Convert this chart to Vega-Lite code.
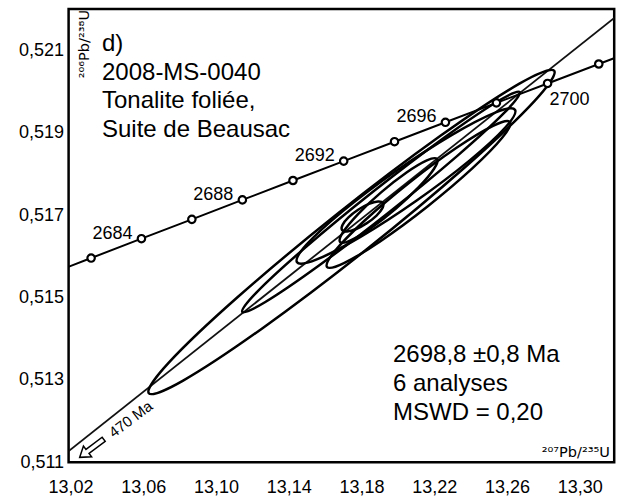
{
  "$schema": "https://vega.github.io/schema/vega-lite/v6.json",
  "width": 545.6,
  "height": 453.2,
  "autosize": {"type": "none"},
  "padding": {"left": 68.6, "top": 9, "right": 8.8, "bottom": 35.8},
  "background": "white",
  "config": {
    "view": {"stroke": "black", "strokeWidth": 2.5},
    "font": "Liberation Sans",
    "axis": {
      "grid": false,
      "domain": false,
      "ticks": false,
      "title": null,
      "labelFont": "Liberation Sans",
      "labelFontSize": 18,
      "labelColor": "black",
      "labelOverlap": false,
      "labelFlush": false
    }
  },
  "datasets": {
    "concordia": [
      {"t": 2680, "x": 13.00477, "y": 0.515484},
      {"t": 2682, "x": 13.03238, "y": 0.515955},
      {"t": 2684, "x": 13.06005, "y": 0.516425},
      {"t": 2686, "x": 13.08777, "y": 0.516895},
      {"t": 2688, "x": 13.11555, "y": 0.517366},
      {"t": 2690, "x": 13.14338, "y": 0.517837},
      {"t": 2692, "x": 13.17126, "y": 0.518308},
      {"t": 2694, "x": 13.19920, "y": 0.518779},
      {"t": 2696, "x": 13.22720, "y": 0.519250},
      {"t": 2698, "x": 13.25525, "y": 0.519722},
      {"t": 2700, "x": 13.28336, "y": 0.520193},
      {"t": 2702, "x": 13.31152, "y": 0.520665},
      {"t": 2704, "x": 13.33974, "y": 0.521137}
    ],
    "discordia": [
      {"x": 13.00, "y": 0.510566},
      {"x": 13.34, "y": 0.522481}
    ],
    "xticks": [
      {"x": 13.04}, {"x": 13.06}, {"x": 13.08}, {"x": 13.10}, {"x": 13.12}, {"x": 13.14}, {"x": 13.16},
      {"x": 13.18}, {"x": 13.20}, {"x": 13.22}, {"x": 13.24}, {"x": 13.26}, {"x": 13.28}, {"x": 13.30}
    ],
    "yticks": [
      {"y": 0.512}, {"y": 0.513}, {"y": 0.514}, {"y": 0.515}, {"y": 0.516},
      {"y": 0.517}, {"y": 0.518}, {"y": 0.519}, {"y": 0.520}, {"y": 0.521}
    ],
    "ellipses": [
      {"id": "E1", "k": 0, "x": 13.28700, "y": 0.520500},
      {"id": "E1", "k": 1, "x": 13.27601, "y": 0.519757},
      {"id": "E1", "k": 2, "x": 13.23809, "y": 0.518165},
      {"id": "E1", "k": 3, "x": 13.18342, "y": 0.516150},
      {"id": "E1", "k": 4, "x": 13.12664, "y": 0.514253},
      {"id": "E1", "k": 5, "x": 13.08297, "y": 0.512980},
      {"id": "E1", "k": 6, "x": 13.06410, "y": 0.512674},
      {"id": "E1", "k": 7, "x": 13.07509, "y": 0.513417},
      {"id": "E1", "k": 8, "x": 13.11301, "y": 0.515009},
      {"id": "E1", "k": 9, "x": 13.16768, "y": 0.517024},
      {"id": "E1", "k": 10, "x": 13.22446, "y": 0.518921},
      {"id": "E1", "k": 11, "x": 13.26813, "y": 0.520194},
      {"id": "E2", "k": 0, "x": 13.26803, "y": 0.519984},
      {"id": "E2", "k": 1, "x": 13.26003, "y": 0.519502},
      {"id": "E2", "k": 2, "x": 13.23374, "y": 0.518436},
      {"id": "E2", "k": 3, "x": 13.19621, "y": 0.517069},
      {"id": "E2", "k": 4, "x": 13.15748, "y": 0.515768},
      {"id": "E2", "k": 5, "x": 13.12795, "y": 0.514882},
      {"id": "E2", "k": 6, "x": 13.11551, "y": 0.514649},
      {"id": "E2", "k": 7, "x": 13.12351, "y": 0.515130},
      {"id": "E2", "k": 8, "x": 13.14980, "y": 0.516196},
      {"id": "E2", "k": 9, "x": 13.18733, "y": 0.517563},
      {"id": "E2", "k": 10, "x": 13.22606, "y": 0.518864},
      {"id": "E2", "k": 11, "x": 13.25559, "y": 0.519750},
      {"id": "E3", "k": 0, "x": 13.26543, "y": 0.519556},
      {"id": "E3", "k": 1, "x": 13.26024, "y": 0.519129},
      {"id": "E3", "k": 2, "x": 13.24039, "y": 0.518320},
      {"id": "E3", "k": 3, "x": 13.21120, "y": 0.517346},
      {"id": "E3", "k": 4, "x": 13.18048, "y": 0.516468},
      {"id": "E3", "k": 5, "x": 13.15648, "y": 0.515921},
      {"id": "E3", "k": 6, "x": 13.14561, "y": 0.515852},
      {"id": "E3", "k": 7, "x": 13.15080, "y": 0.516279},
      {"id": "E3", "k": 8, "x": 13.17065, "y": 0.517088},
      {"id": "E3", "k": 9, "x": 13.19984, "y": 0.518062},
      {"id": "E3", "k": 10, "x": 13.23056, "y": 0.518940},
      {"id": "E3", "k": 11, "x": 13.25456, "y": 0.519487},
      {"id": "E4", "k": 0, "x": 13.22255, "y": 0.518359},
      {"id": "E4", "k": 1, "x": 13.22095, "y": 0.518123},
      {"id": "E4", "k": 2, "x": 13.21263, "y": 0.517680},
      {"id": "E4", "k": 3, "x": 13.19983, "y": 0.517149},
      {"id": "E4", "k": 4, "x": 13.18598, "y": 0.516673},
      {"id": "E4", "k": 5, "x": 13.17479, "y": 0.516379},
      {"id": "E4", "k": 6, "x": 13.16925, "y": 0.516345},
      {"id": "E4", "k": 7, "x": 13.17086, "y": 0.516581},
      {"id": "E4", "k": 8, "x": 13.17917, "y": 0.517024},
      {"id": "E4", "k": 9, "x": 13.19197, "y": 0.517555},
      {"id": "E4", "k": 10, "x": 13.20582, "y": 0.518031},
      {"id": "E4", "k": 11, "x": 13.21701, "y": 0.518325},
      {"id": "E5", "k": 0, "x": 13.19285, "y": 0.517291},
      {"id": "E5", "k": 1, "x": 13.19255, "y": 0.517166},
      {"id": "E5", "k": 2, "x": 13.18932, "y": 0.516987},
      {"id": "E5", "k": 3, "x": 13.18402, "y": 0.516802},
      {"id": "E5", "k": 4, "x": 13.17807, "y": 0.516660},
      {"id": "E5", "k": 5, "x": 13.17307, "y": 0.516600},
      {"id": "E5", "k": 6, "x": 13.17036, "y": 0.516637},
      {"id": "E5", "k": 7, "x": 13.17065, "y": 0.516762},
      {"id": "E5", "k": 8, "x": 13.17388, "y": 0.516941},
      {"id": "E5", "k": 9, "x": 13.17918, "y": 0.517126},
      {"id": "E5", "k": 10, "x": 13.18513, "y": 0.517268},
      {"id": "E5", "k": 11, "x": 13.19013, "y": 0.517329},
      {"id": "E6", "k": 0, "x": 13.26268, "y": 0.519257},
      {"id": "E6", "k": 1, "x": 13.25850, "y": 0.518879},
      {"id": "E6", "k": 2, "x": 13.24197, "y": 0.518130},
      {"id": "E6", "k": 3, "x": 13.21751, "y": 0.517213},
      {"id": "E6", "k": 4, "x": 13.19168, "y": 0.516371},
      {"id": "E6", "k": 5, "x": 13.17140, "y": 0.515832},
      {"id": "E6", "k": 6, "x": 13.16210, "y": 0.515739},
      {"id": "E6", "k": 7, "x": 13.16628, "y": 0.516117},
      {"id": "E6", "k": 8, "x": 13.18281, "y": 0.516866},
      {"id": "E6", "k": 9, "x": 13.20727, "y": 0.517783},
      {"id": "E6", "k": 10, "x": 13.23310, "y": 0.518625},
      {"id": "E6", "k": 11, "x": 13.25338, "y": 0.519164}
    ],
    "notes": [
      {"label": "d)", "x": 13.03836, "y": 0.520981},
      {"label": "2008-MS-0040", "x": 13.03836, "y": 0.520277},
      {"label": "Tonalite foliée,", "x": 13.03836, "y": 0.519597},
      {"label": "Suite de Beausac", "x": 13.03836, "y": 0.518905},
      {"label": "2698,8 ±0,8 Ma", "x": 13.19837, "y": 0.513439},
      {"label": "6 analyses", "x": 13.19837, "y": 0.512740},
      {"label": "MSWD = 0,20", "x": 13.19837, "y": 0.512024}
    ]
  },
  "encoding": {
    "x": {
      "field": "x",
      "type": "quantitative",
      "scale": {"domain": [13.02, 13.32], "nice": false, "zero": false},
      "axis": {
        "values": [13.02, 13.06, 13.10, 13.14, 13.18, 13.22, 13.26, 13.30],
        "labelExpr": "replace(format(datum.value, '.2f'), '.', ',')",
        "labelPadding": 16.5,
        "labelOffset": 2
      }
    },
    "y": {
      "field": "y",
      "type": "quantitative",
      "scale": {"domain": [0.511, 0.522], "nice": false, "zero": false},
      "axis": {
        "values": [0.511, 0.513, 0.515, 0.517, 0.519, 0.521],
        "labelExpr": "replace(format(datum.value, '.3f'), '.', ',')",
        "labelPadding": 5
      }
    }
  },
  "layer": [
    {
      "data": {"name": "xticks"},
      "mark": {"type": "tick", "orient": "vertical", "size": 10, "thickness": 1.8, "color": "black", "opacity": 1, "clip": true},
      "encoding": {"y": {"datum": 0.511}}
    },
    {
      "data": {"name": "yticks"},
      "mark": {"type": "tick", "orient": "horizontal", "size": 10, "thickness": 1.8, "color": "black", "opacity": 1, "clip": true},
      "encoding": {"x": {"datum": 13.02}}
    },
    {
      "data": {"name": "discordia"},
      "mark": {"type": "line", "clip": true, "color": "#111111", "strokeWidth": 1.8}
    },
    {
      "data": {"name": "concordia"},
      "mark": {"type": "line", "clip": true, "color": "black", "strokeWidth": 2}
    },
    {
      "data": {"name": "ellipses"},
      "mark": {"type": "line", "interpolate": "cardinal-closed", "color": "black", "strokeWidth": 2.5, "clip": true},
      "encoding": {
        "detail": {"field": "id", "type": "nominal"},
        "order": {"field": "k", "type": "quantitative"}
      }
    },
    {
      "data": {"name": "concordia"},
      "mark": {"type": "point", "clip": true, "shape": "circle", "filled": true, "fill": "white", "stroke": "black", "strokeWidth": 2.2, "size": 55, "opacity": 1}
    },
    {
      "data": {"name": "concordia"},
      "transform": [{"filter": "datum.t >= 2684 && datum.t <= 2696 && datum.t % 4 == 0"}],
      "mark": {"type": "text", "align": "right", "baseline": "middle", "dx": -9, "dy": -5, "fontSize": 18, "font": "Liberation Sans", "color": "black"},
      "encoding": {"text": {"field": "t", "type": "nominal"}}
    },
    {
      "data": {"name": "concordia"},
      "transform": [{"filter": "datum.t == 2700"}],
      "mark": {"type": "text", "align": "left", "baseline": "middle", "dx": 2, "dy": 17, "fontSize": 18, "font": "Liberation Sans", "color": "black"},
      "encoding": {"text": {"field": "t", "type": "nominal"}}
    },
    {
      "data": {"name": "notes"},
      "mark": {"type": "text", "align": "left", "baseline": "alphabetic", "fontSize": 24, "font": "Liberation Sans", "color": "black"},
      "encoding": {"text": {"field": "label", "type": "nominal"}}
    },
    {
      "data": {"values": [{"label": "²⁰⁶Pb/²³⁸U", "x": 13.03149, "y": 0.521976}]},
      "mark": {"type": "text", "align": "right", "baseline": "alphabetic", "angle": 270, "fontSize": 14.5, "font": "DejaVu Sans", "color": "black"},
      "encoding": {"text": {"field": "label", "type": "nominal"}}
    },
    {
      "data": {"values": [{"label": "²⁰⁷Pb/²³⁵U", "x": 13.31768, "y": 0.511126}]},
      "mark": {"type": "text", "align": "right", "baseline": "alphabetic", "fontSize": 14.5, "font": "DejaVu Sans", "color": "black"},
      "encoding": {"text": {"field": "label", "type": "nominal"}}
    },
    {
      "data": {"values": [{"label": "470 Ma", "x": 13.05414, "y": 0.512041}]},
      "mark": {"type": "text", "align": "center", "baseline": "middle", "angle": 323, "fontSize": 15, "font": "Liberation Sans", "color": "black"},
      "encoding": {"text": {"field": "label", "type": "nominal"}}
    },
    {
      "data": {"values": [{"x": 13.0327, "y": 0.511337}]},
      "mark": {"type": "point", "shape": "M -1 0 L -0.35 -0.45 L -0.35 -0.17 L 1 -0.17 L 1 0.17 L -0.35 0.17 L -0.35 0.45 Z", "angle": 323, "size": 900, "filled": false, "stroke": "black", "strokeWidth": 1.5, "opacity": 1}
    }
  ]
}
